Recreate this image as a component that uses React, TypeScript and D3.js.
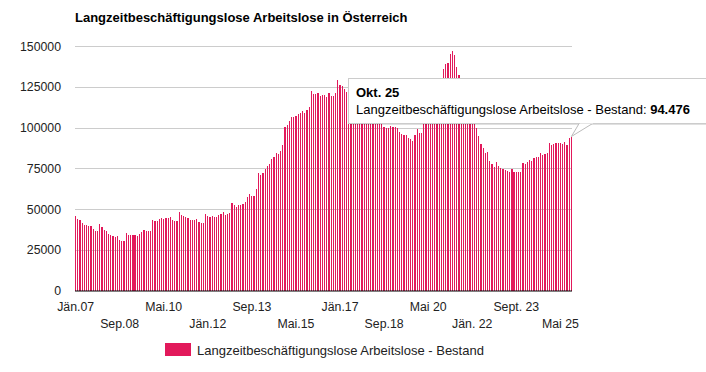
import React from "react";
import * as d3 from "d3";

// Monthly values Jan 2007 – Oct 2025
const y2007 = [45800, 44000, 43400, 41600, 40300, 40300, 39700, 39700, 37900, 36700, 36700, 41000];
const y2008 = [39100, 37300, 36700, 34800, 34200, 33600, 33000, 33600, 31200, 30600, 30600, 35500];
const y2009 = [34200, 34200, 34200, 34200, 33600, 34800, 36100, 37300, 36700, 36700, 36700, 43400];
const y2010 = [42800, 42800, 44000, 44600, 44000, 44600, 44600, 45200, 43400, 42800, 42800, 48300];
const y2011 = [46500, 45800, 45200, 44600, 43400, 43400, 43400, 44000, 42200, 41600, 41600, 47100];
const y2012 = [45800, 45200, 45800, 45200, 45200, 46500, 47100, 48300, 46500, 47100, 47700, 53800];
const y2013 = [52600, 51300, 52600, 52600, 53200, 54400, 57500, 59300, 58100, 58100, 62300, 72100];
const y2014 = [70900, 72100, 74600, 76400, 77600, 80700, 81900, 84400, 83800, 85600, 89000, 100600];
const y2015 = [101800, 104200, 106700, 106700, 107300, 108500, 109100, 110300, 109100, 110900, 112800, 122600];
const y2016 = [120700, 120700, 121300, 119500, 120100, 120100, 118900, 121300, 119500, 119500, 121300, 129300];
const y2017 = [126200, 125600, 123800, 121900, 119500, 118000, 117500, 116000, 114500, 113000, 112000, 114000];
const y2018 = [111000, 110000, 108000, 106500, 105000, 104000, 103500, 103500, 100600, 99400, 99400, 101200];
const y2019 = [100600, 100600, 99400, 97500, 96300, 95100, 95700, 93300, 92700, 92000, 95100, 98800];
const y2020 = [96900, 96900, 103500, 106000, 108000, 110000, 112500, 117000, 121000, 125000, 129000, 136000];
const y2021 = [139100, 139700, 145200, 147000, 144600, 137200, 132000, 127000, 122000, 117000, 112000, 113000];
const y2022 = [107500, 104000, 99400, 94500, 89600, 87200, 84100, 84700, 79200, 77400, 75600, 78600];
const y2023 = [76200, 75000, 74400, 73800, 73200, 72500, 74400, 72500, 72500, 73000, 72500, 78000];
const y2024 = [77400, 78600, 79800, 79200, 81000, 81600, 81600, 84100, 82900, 83500, 84100, 90200];
const y2025 = [89000, 89600, 90200, 90200, 90200, 89600, 90800, 89000, 93300, 94476];

const values: number[] = [
  ...y2007, ...y2008, ...y2009, ...y2010, ...y2011, ...y2012, ...y2013, ...y2014, ...y2015,
  ...y2016, ...y2017, ...y2018, ...y2019, ...y2020, ...y2021, ...y2022, ...y2023, ...y2024, ...y2025,
];

const monthNames = ["Jän", "Feb", "Mär", "Apr", "Mai", "Jun", "Jul", "Aug", "Sep", "Okt", "Nov", "Dez"];
const categories = values.map((_, i) => `${monthNames[i % 12]}. ${String(7 + Math.floor(i / 12)).padStart(2, "0")}`);

const xTickIndex = [0, 20, 40, 60, 80, 100, 120, 140, 160, 180, 200, 220];
const xTickLabels = ["Jän.07", "Sep.08", "Mai.10", "Jän.12", "Sep.13", "Mai.15", "Jän.17", "Sep.18", "Mai 20", "Jän. 22", "Sept. 23", "Mai 25"];
const yTicks = [0, 25000, 50000, 75000, 100000, 125000, 150000];

const title = "Langzeitbeschäftigungslose Arbeitslose in Österreich";
const seriesName = "Langzeitbeschäftigungslose Arbeitslose - Bestand";
const tooltipIndex = values.length - 1;

const FONT = "Arial, 'Liberation Sans', sans-serif";
const BAR = "#e2195b";

export default function App() {
  const x = d3.scaleBand<number>().domain(values.map((_, i) => i)).range([75, 572]).paddingInner(0.45).paddingOuter(0);
  const y = d3.scaleLinear().domain([0, 150000]).range([290.5, 46]);
  const fmt = d3.formatLocale({ decimal: ",", thousands: ".", grouping: [3], currency: ["", "€"] }).format(",");
  const step = x.step();
  const cx = (i: number) => (x(i) as number) + x.bandwidth() / 2;
  const tipX = cx(tooltipIndex);
  const tipY = y(values[tooltipIndex]);

  return (
    <svg width={706} height={372} style={{ position: "absolute", left: 0, top: 0, background: "#fff" }} fontFamily={FONT}>
      <text x={75} y={22} fontSize={13} fontWeight="bold" fill="#000">{title}</text>
      {yTicks.map((t) => (
        <g key={t}>
          {t > 0 && <line x1={75} x2={572} y1={Math.round(y(t)) + 0.5} y2={Math.round(y(t)) + 0.5} stroke="#cccccc" strokeWidth={1} />}
          <text x={61} y={y(t) + 4.5} fontSize={12.3} textAnchor="end" fill="#222">{t}</text>
        </g>
      ))}
      <g shapeRendering="crispEdges">
        {values.map((v, i) => (
          <rect key={i} x={x(i)} y={y(v)} width={Math.max(1, x.bandwidth())} height={y(0) - y(v)} fill={BAR} />
        ))}
      </g>
      <line x1={75} x2={572} y1={291} y2={291} stroke="#000" strokeWidth={1} />
      {xTickIndex.map((idx, k) => (
        <text key={idx} x={cx(idx)} y={k % 2 === 0 ? 311 : 328} fontSize={12.3} textAnchor="middle" fill="#222">
          {xTickLabels[k]}
        </text>
      ))}
      <rect x={165} y={343} width={26} height={13} fill={BAR} />
      <text x={197} y={355} fontSize={13} fill="#222">{seriesName}</text>
      {/* tooltip */}
      <g>
        <rect x={350} y={80} width={370} height={45} fill="rgba(0,0,0,0.12)" />
        <polygon points={`${tipX + 8},123 ${tipX},${tipY} ${tipX + 22},123`} fill="#fff" stroke="#bbb" />
        <rect x={348.5} y={78.5} width={370} height={45} fill="#fff" stroke="#cccccc" />
        <rect x={tipX + 8.5} y={121} width={13} height={2.5} fill="#fff" />
        <text x={356} y={97} fontSize={13} fontWeight="bold" fill="#000">{categories[tooltipIndex]}</text>
        <text x={356} y={114} fontSize={13} fill="#000">
          {seriesName}: <tspan fontWeight="bold">{fmt(values[tooltipIndex])}</tspan>
        </text>
      </g>
      <desc>{String(step)}</desc>
    </svg>
  );
}
